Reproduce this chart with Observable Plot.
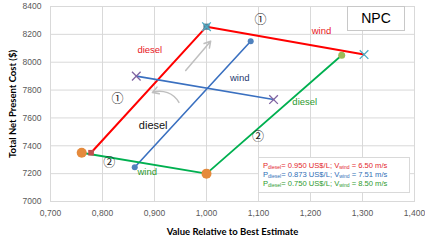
<!DOCTYPE html>
<html><head><meta charset="utf-8">
<script src="https://cdn.jsdelivr.net/npm/d3@7"></script>
<script src="https://cdn.jsdelivr.net/npm/@observablehq/plot@0.6"></script>
<style>
body{margin:0;background:#fff;}
#wrap{position:relative;width:425px;height:242px;font-family:"Liberation Sans",Arial,sans-serif;}
#wrap svg{position:absolute;left:0;top:0;}
.box{position:absolute;background:#fff;box-sizing:border-box;}
.leg div{white-space:nowrap;font-size:7.6px;line-height:9px;padding-left:4px;}
.leg sub{font-size:5px;vertical-align:-1px;line-height:0;}
</style></head><body><div id="wrap"></div>
<script>
// tick values
const xTicks = [0.7, 0.8, 0.9, 1.0, 1.1, 1.2, 1.3, 1.4];
const yTicks = [7000, 7200, 7400, 7600, 7800, 8000, 8200, 8400];

// series: red (Pdiesel 0.950, Vwind 6.50) — diesel then wind
const redX = [0.778, 1.000, 1.303];
const redY = [7350, 8255, 8055];
// blue (Pdiesel 0.873, Vwind 7.51)
const blueDieselX = [0.862, 1.085];
const blueDieselY = [7246, 8151];
const blueWindX = [0.865, 1.129];
const blueWindY = [7900, 7732];
// green (Pdiesel 0.750, Vwind 8.50) — wind then diesel
const greenX = [0.760, 1.000, 1.260];
const greenY = [7350, 7200, 8050];

// annotation labels (data coordinates)
const annText = ["diesel", "wind", "wind", "diesel", "diesel", "wind"];
const annX = [0.891, 1.221, 1.064, 0.8975, 1.189, 0.886];
const annY = [8091, 8226, 7888, 7545, 7713, 7213];
const numText = ["\u2460", "\u2460", "\u2461", "\u2461"];
const numX = [0.829, 1.104, 0.813, 1.099];
const numY = [7734, 8300, 7278, 7459];

const annColor = ["#e8141c", "#e8141c", "#1f3a70", "#111111", "#2e9a2e", "#2e9a2e"];
const annSize = [9.5, 9.5, 9.5, 11, 9.5, 9.5];

const pts = (xs, ys) => xs.map((x, i) => ({x, y: ys[i]}));
const fmt = d => d3.format(".3f")(d).replace(".", ",");

const marks = [
  Plot.gridX(xTicks, {stroke: "#d9d9d9", strokeOpacity: 1}),
  Plot.gridY(yTicks, {stroke: "#d9d9d9", strokeOpacity: 1}),
  Plot.frame({stroke: "#d9d9d9"}),
  Plot.axisX({ticks: xTicks, tickSize: 0, tickPadding: 8, tickFormat: fmt, label: null, fill: "#595959"}),
  Plot.axisY({ticks: yTicks, tickSize: 0, tickPadding: 9, tickFormat: d => String(d), label: null, fill: "#595959"}),
  Plot.text(["Value Relative to Best Estimate"], {frameAnchor: "bottom", dy: 33, fontWeight: "bold", fontSize: 9.5, fill: "#000", fontFamily: "Lato"}),
  Plot.text(["Total Net Present Cost ($)"], {frameAnchor: "left", textAnchor: "middle", rotate: -90, dx: -38, fontWeight: "bold", fontSize: 9.5, fill: "#000", fontFamily: "Lato"}),
  Plot.arrow([{x1: 0.96, y1: 7940, x2: 1.008, y2: 8151}], {x1: "x1", y1: "y1", x2: "x2", y2: "y2", stroke: "#bfbfbf", strokeWidth: 1.5, headLength: 7}),
  Plot.arrow([{x1: 0.947, y1: 7711, x2: 0.896, y2: 7783}], {x1: "x1", y1: "y1", x2: "x2", y2: "y2", stroke: "#bfbfbf", strokeWidth: 1.5, headLength: 7, bend: -40}),
  Plot.line(pts(redX, redY), {x: "x", y: "y", stroke: "#ff0000", strokeWidth: 2}),
  Plot.line(pts(blueDieselX, blueDieselY), {x: "x", y: "y", stroke: "#3a70c0", strokeWidth: 1.6}),
  Plot.line(pts(blueWindX, blueWindY), {x: "x", y: "y", stroke: "#3a70c0", strokeWidth: 1.6}),
  Plot.line(pts(greenX, greenY), {x: "x", y: "y", stroke: "#00b050", strokeWidth: 1.8}),
  // markers
  Plot.dot(pts(greenX.slice(0, 2), greenY.slice(0, 2)), {x: "x", y: "y", r: 5, fill: "#e58a3c"}),
  Plot.dot(pts(greenX.slice(2), greenY.slice(2)), {x: "x", y: "y", r: 3.5, fill: "#9bbb59"}),
  Plot.dot(pts(redX.slice(0, 1), redY.slice(0, 1)), {x: "x", y: "y", r: 3.2, symbol: "square", fill: "#c0504d"}),
  Plot.dot(pts(redX.slice(1, 2), redY.slice(1, 2)), {x: "x", y: "y", r: 3.5, symbol: "square", fill: "#5b7f93"}),
  Plot.dot(pts(redX.slice(1), redY.slice(1)), {x: "x", y: "y", r: 4, symbol: "times", stroke: "#4bacc6", strokeWidth: 1.3}),
  Plot.dot(pts(blueDieselX, blueDieselY), {x: "x", y: "y", r: 3, fill: "#4f81bd"}),
  Plot.dot(pts(blueWindX, blueWindY), {x: "x", y: "y", r: 4, symbol: "times", stroke: "#8064a2", strokeWidth: 1.3}),
  ...annText.map((t, i) => Plot.text([t], {x: () => annX[i], y: () => annY[i], fill: annColor[i], fontSize: annSize[i], fontFamily: "Liberation Sans"})),
  ...numText.map((t, i) => Plot.text([t], {x: () => numX[i], y: () => numY[i], fill: "#222", fontSize: 12, fontFamily: "Noto Sans CJK JP"}))
];

const chart = Plot.plot({
  width: 425, height: 242,
  marginLeft: 50, marginRight: 11, marginTop: 6, marginBottom: 41,
  x: {domain: [0.7, 1.4]},
  y: {domain: [7000, 8400]},
  style: {fontSize: "8.5px", fontFamily: "Liberation Sans, Arial, sans-serif", background: "#fff"},
  marks
});
const wrap = document.getElementById("wrap");
wrap.appendChild(chart);

const npc = document.createElement("div");
npc.className = "box";
npc.style.cssText = "left:347px;top:6px;width:58px;height:25px;border:1px solid #c8c8c8;font-size:14px;line-height:23px;text-align:center;color:#000;";
npc.textContent = "NPC";
wrap.appendChild(npc);

const leg = document.createElement("div");
leg.className = "box leg";
leg.style.cssText = "left:258px;top:157px;width:152px;height:36px;border:1px solid #d9d9d9;padding-top:3px;";
leg.innerHTML =
  '<div style="color:#e3262b">P<sub>diesel</sub>= 0.950 US$/L; V<sub>wind</sub> = 6.50 m/s</div>' +
  '<div style="color:#2f6eb5">P<sub>diesel</sub>= 0.873 US$/L; V<sub>wind</sub> = 7.51 m/s</div>' +
  '<div style="color:#2e9a2e">P<sub>diesel</sub>= 0.750 US$/L; V<sub>wind</sub> = 8.50 m/s</div>';
wrap.appendChild(leg);
</script>
</body></html>
